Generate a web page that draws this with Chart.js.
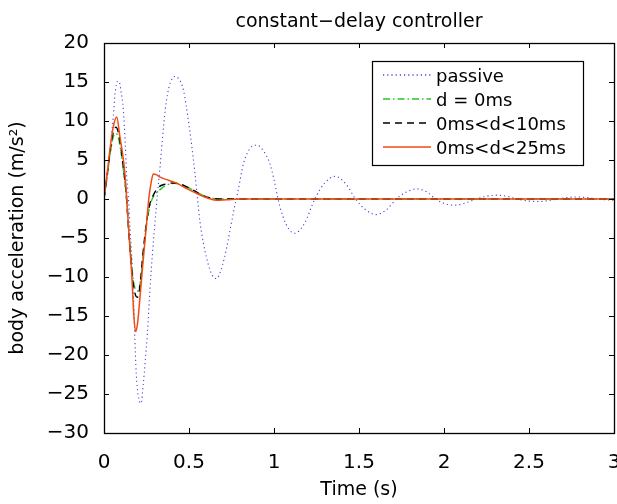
<!DOCTYPE html>
<html><head><meta charset="utf-8">
<script src="https://cdn.jsdelivr.net/npm/chart.js@4/dist/chart.umd.min.js"></script>
<style>html,body{margin:0;padding:0;background:#fff}canvas{display:block}</style>
</head><body>
<canvas id="c" width="617" height="504"></canvas>
<script>
const chartTitle = 'constant\u2212delay controller';
const xTitle = 'Time (s)';
const yTitle = 'body acceleration (m/s\u00B2)';
const xTickLabels = ['0', '0.5', '1', '1.5', '2', '2.5', '3'];
const yTickLabels = ['\u221230', '\u221225', '\u221220', '\u221215', '\u221210', '\u22125', '0', '5', '10', '15', '20'];
const seriesNames = ['passive', 'd = 0ms', '0ms<d<10ms', '0ms<d<25ms'];

// [time (s), acceleration (m/s^2)]
const passive = [[0,0],[0.02,3.0],[0.04,7.2],[0.055,10.7],[0.065,13.5],[0.08,15.1],[0.09,15.0],[0.1,13.8],[0.114,11.4],[0.125,7.0],[0.134,2.8],[0.143,0.3],[0.153,-3.8],[0.163,-7.4],[0.172,-11.7],[0.18,-17.0],[0.19,-22.5],[0.2,-25.0],[0.218,-26.2],[0.231,-23.7],[0.243,-20.7],[0.255,-17.3],[0.27,-11.7],[0.285,-7.0],[0.3,-3.0],[0.315,0.8],[0.33,4.2],[0.345,8.0],[0.36,11.4],[0.375,13.6],[0.39,14.9],[0.415,15.7],[0.44,15.4],[0.467,14.0],[0.496,10.1],[0.515,7.0],[0.535,3.3],[0.55,0],[0.565,-3.0],[0.585,-5.7],[0.604,-7.6],[0.625,-9.2],[0.643,-10.0],[0.663,-10.2],[0.685,-9.3],[0.71,-7.4],[0.73,-5.3],[0.75,-3.0],[0.77,-0.8],[0.79,1.2],[0.82,4.5],[0.86,6.5],[0.9,6.9],[0.94,6.1],[0.976,4.5],[1.0,2.5],[1.02,0.4],[1.035,-1.0],[1.07,-3.2],[1.12,-4.4],[1.18,-3.1],[1.24,0],[1.3,2.1],[1.36,2.9],[1.42,2.0],[1.48,0],[1.54,-1.4],[1.6,-2.0],[1.66,-1.4],[1.72,0],[1.78,0.9],[1.84,1.3],[1.9,0.9],[1.95,0],[2.0,-0.55],[2.06,-0.8],[2.12,-0.55],[2.19,0],[2.25,0.35],[2.31,0.5],[2.37,0.35],[2.43,0],[2.49,-0.23],[2.55,-0.33],[2.61,-0.23],[2.67,0],[2.72,0.18],[2.78,0.26],[2.84,0.18],[2.9,0],[2.95,-0.1],[3.0,-0.15]];
const d0 = [[0,0],[0.016,2.5],[0.037,5.9],[0.055,8.0],[0.07,8.4],[0.085,7.8],[0.1,6.0],[0.115,3.6],[0.13,0.7],[0.149,-4.9],[0.169,-9.8],[0.185,-11.6],[0.2,-11.8],[0.215,-10.5],[0.235,-6.2],[0.255,-2.6],[0.275,-0.5],[0.3,0.6],[0.33,1.2],[0.36,1.7],[0.41,2.0],[0.45,1.9],[0.51,1.3],[0.56,0.7],[0.6,0.3],[0.65,0.05],[0.7,0],[3.0,0]];
const d10 = [[0,0],[0.016,2.6],[0.037,6.2],[0.055,8.6],[0.07,9.2],[0.085,8.5],[0.1,6.5],[0.115,3.8],[0.13,0.8],[0.149,-5.3],[0.169,-10.4],[0.185,-12.3],[0.196,-12.6],[0.21,-11.4],[0.231,-6.6],[0.25,-3.0],[0.27,-0.6],[0.29,0.5],[0.32,1.5],[0.36,1.9],[0.41,2.05],[0.45,1.9],[0.51,1.3],[0.56,0.7],[0.6,0.26],[0.65,0.05],[0.7,0],[3.0,0]];
const d25 = [[0,0],[0.016,2.8],[0.037,6.7],[0.055,9.3],[0.075,10.5],[0.094,7.9],[0.11,5.7],[0.122,3.5],[0.132,0.5],[0.143,-3.2],[0.153,-6.5],[0.163,-9.6],[0.176,-15.1],[0.186,-17.0],[0.197,-16.0],[0.207,-13.8],[0.227,-8.7],[0.25,-3.2],[0.265,0.3],[0.278,2.2],[0.29,3.2],[0.31,3.1],[0.33,2.8],[0.38,2.4],[0.43,2.0],[0.49,1.3],[0.547,0.7],[0.6,0.2],[0.66,-0.17],[0.72,-0.1],[0.8,0],[1.0,0],[3.0,0]];

const toXY = arr => arr.map(p => ({x: p[0], y: p[1]}));
const FONT = 'DejaVu Sans';

const datasets = [
  {label: seriesNames[0], data: toXY(passive), borderColor: 'rgb(70,70,215)', borderWidth: 1.1, borderDash: [1.2,3], order: 4},
  {label: seriesNames[1], data: toXY(d0), borderColor: 'rgb(40,195,40)', borderWidth: 1.4, borderDash: [7,3,1.5,3], order: 3},
  {label: seriesNames[2], data: toXY(d10), borderColor: '#000000', borderWidth: 1.4, borderDash: [7,5], order: 2},
  {label: seriesNames[3], data: toXY(d25), borderColor: 'rgb(240,75,20)', borderWidth: 1.5, order: 1}
];
datasets.forEach(d => { d.pointRadius = 0; d.fill = false; d.cubicInterpolationMode = 'monotone'; });

const framePlugin = {
  id: 'frame',
  afterDraw(chart) {
    const {ctx, chartArea: a, scales} = chart;
    ctx.save();
    ctx.strokeStyle = '#000';
    ctx.lineWidth = 1;
    ctx.beginPath();
    scales.x.ticks.forEach(t => {
      const px = Math.round(scales.x.getPixelForValue(t.value)) + 0.5;
      ctx.moveTo(px, a.bottom); ctx.lineTo(px, a.bottom - 5);
      ctx.moveTo(px, a.top); ctx.lineTo(px, a.top + 5);
    });
    scales.y.ticks.forEach(t => {
      const py = Math.round(scales.y.getPixelForValue(t.value)) + 0.5;
      ctx.moveTo(a.left, py); ctx.lineTo(a.left + 5, py);
      ctx.moveTo(a.right, py); ctx.lineTo(a.right - 5, py);
    });
    ctx.stroke();
    ctx.lineWidth = 1.3;
    ctx.strokeRect(Math.round(a.left) + 0.5, Math.round(a.top) + 0.5, Math.round(a.right - a.left), Math.round(a.bottom - a.top));
    ctx.fillStyle = '#000';
    ctx.font = '19px "' + FONT + '"';
    ctx.textAlign = 'center';
    ctx.textBaseline = 'alphabetic';
    ctx.fillText(chartTitle, (a.left + a.right) / 2, 27);
    // legend
    const bx = 372, by = 61, bw = 211, bh = 104;
    ctx.fillStyle = '#fff';
    ctx.fillRect(bx, by, bw, bh);
    ctx.lineWidth = 1.2;
    ctx.strokeStyle = '#000';
    ctx.strokeRect(bx + 0.5, by + 0.5, bw, bh);
    ctx.font = '18px "' + FONT + '"';
    ctx.textAlign = 'left';
    chart.data.datasets.forEach((ds, i) => {
      const base = 82 + i * 24;
      const ly = base - 7;
      ctx.save();
      ctx.strokeStyle = ds.borderColor;
      ctx.lineWidth = Math.max(1.5, ds.borderWidth);
      ctx.setLineDash(ds.borderDash || []);
      ctx.beginPath();
      ctx.moveTo(383, ly); ctx.lineTo(431, ly);
      ctx.stroke();
      ctx.restore();
      ctx.fillStyle = '#000';
      ctx.fillText(ds.label, 436, base);
    });
    ctx.restore();
  }
};

new Chart(document.getElementById('c'), {
  type: 'line',
  data: {datasets},
  options: {
    responsive: false,
    animation: false,
    devicePixelRatio: 1,
    layout: {padding: {left: 0, right: 3, top: 43, bottom: 0}},
    plugins: {legend: {display: false}, title: {display: false}, tooltip: {enabled: false}},
    scales: {
      x: {
        type: 'linear', min: 0, max: 3,
        grid: {display: false, drawTicks: false}, border: {display: false},
        ticks: {stepSize: 0.5, autoSkip: false, maxRotation: 0, padding: 18, color: '#000',
          font: {family: FONT, size: 20},
          callback: (v, i) => xTickLabels[i]},
        title: {display: true, text: xTitle, color: '#000', font: {family: FONT, size: 19}, padding: {top: 0, bottom: 3}},
        afterFit: s => { s.height = 71; s.paddingLeft = 0; s.paddingRight = 0; }
      },
      y: {
        type: 'linear', min: -30, max: 20,
        grid: {display: false, drawTicks: false}, border: {display: false},
        ticks: {stepSize: 5, autoSkip: false, padding: 15, color: '#000',
          font: {family: FONT, size: 20},
          callback: (v, i) => yTickLabels[i]},
        title: {display: true, text: yTitle, color: '#000', font: {family: FONT, size: 19}, padding: {top: 7, bottom: 0}},
        afterFit: s => { s.width = 104; s.paddingTop = 0; s.paddingBottom = 0; }
      }
    }
  },
  plugins: [framePlugin]
});
</script>
</body></html>
